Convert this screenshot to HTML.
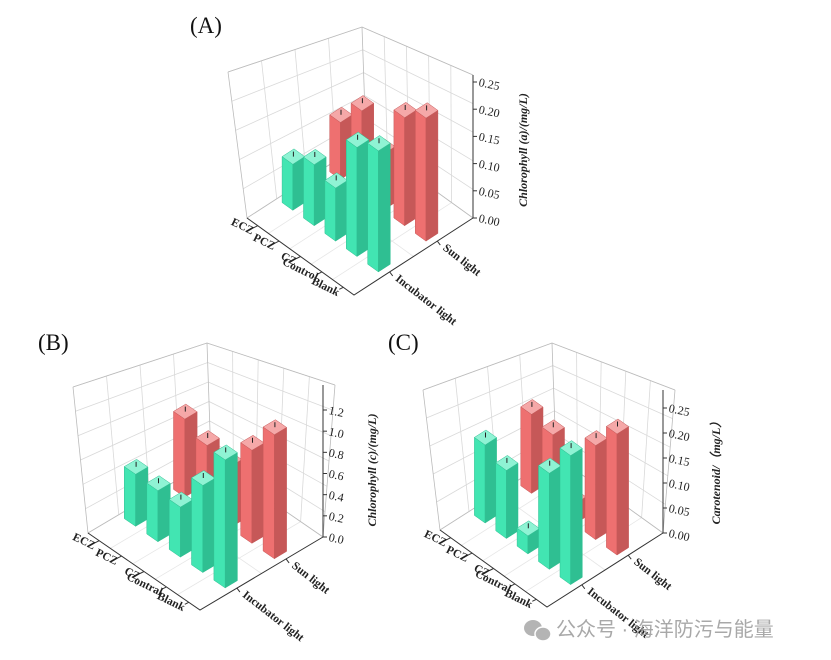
<!DOCTYPE html>
<html><head><meta charset="utf-8"><style>
html,body{margin:0;padding:0;background:#fff;}
svg{display:block;}
.t{font-family:"Liberation Serif",serif;font-size:12px;fill:#222;}
.c{font-family:"Liberation Serif",serif;font-size:11.5px;font-weight:bold;fill:#222;}
.ax{font-family:"Liberation Serif",serif;font-size:12px;font-weight:bold;font-style:italic;fill:#222;}
.p{font-family:"Liberation Serif",serif;font-size:23px;fill:#111;}
.w{font-family:"Liberation Sans","Noto Sans CJK SC",sans-serif;font-size:20px;fill:#9a9a9a;}
</style></head><body>
<svg id="s" width="831" height="660" viewBox="0 0 831 660" xmlns="http://www.w3.org/2000/svg">
<g id="gA"></g><g id="gB"></g><g id="gC"></g>
<text class="p" x="190" y="33">(A)</text>
<text class="p" x="38" y="350">(B)</text>
<text class="p" x="388" y="350">(C)</text>
<text class="ax" transform="translate(527,150) rotate(-90)" text-anchor="middle">Chlorophyll (a)/(mg/L)</text>
<text class="ax" transform="translate(376,470) rotate(-90)" text-anchor="middle">Chlorophyll (c)/(mg/L)</text>
<text class="ax" transform="translate(720,470) rotate(-90)" text-anchor="middle">Carotenoid/（mg/L）</text>
<g id="labels">
<text class="c" id="A_c0" text-anchor="end">ECZ</text><text class="c" id="A_c1" text-anchor="end">PCZ</text><text class="c" id="A_c2" text-anchor="end">CZ</text><text class="c" id="A_c3" text-anchor="end">Control</text><text class="c" id="A_c4" text-anchor="end">Blank</text>
<text class="c" id="A_l0">Incubator light</text><text class="c" id="A_l1">Sun light</text>
<text class="c" id="B_c0" text-anchor="end">ECZ</text><text class="c" id="B_c1" text-anchor="end">PCZ</text><text class="c" id="B_c2" text-anchor="end">CZ</text><text class="c" id="B_c3" text-anchor="end">Contral</text><text class="c" id="B_c4" text-anchor="end">Blank</text>
<text class="c" id="B_l0">Incubator light</text><text class="c" id="B_l1">Sun light</text>
<text class="c" id="C_c0" text-anchor="end">ECZ</text><text class="c" id="C_c1" text-anchor="end">PCZ</text><text class="c" id="C_c2" text-anchor="end">CZ</text><text class="c" id="C_c3" text-anchor="end">Contral</text><text class="c" id="C_c4" text-anchor="end">Blank</text>
<text class="c" id="C_l0">Incubator light</text><text class="c" id="C_l1">Sun light</text>
<text class="t" id="A_t0">0.00</text><text class="t" id="A_t1">0.05</text><text class="t" id="A_t2">0.10</text><text class="t" id="A_t3">0.15</text><text class="t" id="A_t4">0.20</text><text class="t" id="A_t5">0.25</text>
<text class="t" id="B_t0">0.0</text><text class="t" id="B_t1">0.2</text><text class="t" id="B_t2">0.4</text><text class="t" id="B_t3">0.6</text><text class="t" id="B_t4">0.8</text><text class="t" id="B_t5">1.0</text><text class="t" id="B_t6">1.2</text>
<text class="t" id="C_t0">0.00</text><text class="t" id="C_t1">0.05</text><text class="t" id="C_t2">0.10</text><text class="t" id="C_t3">0.15</text><text class="t" id="C_t4">0.20</text><text class="t" id="C_t5">0.25</text>
</g>
<g opacity="0.85">
<ellipse cx="533" cy="628" rx="9" ry="8" fill="#a8a8a8"/>
<ellipse cx="543" cy="634" rx="8" ry="7" fill="#a8a8a8" stroke="#fff" stroke-width="1.5"/>
<text class="w" x="556" y="636">公众号 · 海洋防污与能量</text>
</g>
</svg>
<script>
var NS="http://www.w3.org/2000/svg";
function el(g,tag,at){var e=document.createElementNS(NS,tag);for(var k in at)e.setAttribute(k,at[k]);g.appendChild(e);return e;}
function lerp(p,q,t){return [p[0]+(q[0]-p[0])*t,p[1]+(q[1]-p[1])*t];}
function pts(a){return a.map(function(p){return p[0].toFixed(1)+","+p[1].toFixed(1)}).join(" ");}
function panel(id,c){
 var g=document.getElementById(c.g);
 var L=c.L,F=c.F,R=c.R,B=[L[0]+R[0]-F[0],L[1]+R[1]-F[1]];
 var u=[F[0]-L[0],F[1]-L[1]],v=[R[0]-F[0],R[1]-F[1]];
 function P(a,b,h){return [L[0]+a*u[0]+b*v[0],L[1]+a*u[1]+b*v[1]-(h||0)];}
 var gc="#d9d9d9";
 var n=c.nt-1;
 for(var i=0;i<=n;i++){var f=i/n;
  var p1=lerp(L,c.Lt,f),p2=lerp(B,c.Bt,f),p3=lerp(R,c.Rt,f);
  el(g,"polyline",{points:pts([p1,p2,p3]),fill:"none",stroke:gc,"stroke-width":0.8});}
 [0.25,0.5,0.75].forEach(function(t){
  el(g,"line",{x1:lerp(L,B,t)[0],y1:lerp(L,B,t)[1],x2:lerp(c.Lt,c.Bt,t)[0],y2:lerp(c.Lt,c.Bt,t)[1],stroke:gc,"stroke-width":0.8});
  });
 [0.2,0.4,0.6,0.8].forEach(function(t){
  el(g,"line",{x1:lerp(B,R,t)[0],y1:lerp(B,R,t)[1],x2:lerp(c.Bt,c.Rt,t)[0],y2:lerp(c.Bt,c.Rt,t)[1],stroke:gc,"stroke-width":0.8});
  var a=P(t,0),b=P(t,1);el(g,"line",{x1:a[0],y1:a[1],x2:b[0],y2:b[1],stroke:"#e6e6e6","stroke-width":0.8});
  });
 [0.5].forEach(function(t){var a=P(0,t),b=P(1,t);el(g,"line",{x1:a[0],y1:a[1],x2:b[0],y2:b[1],stroke:"#e6e6e6","stroke-width":0.8});});
 el(g,"polyline",{points:pts([c.Lt,L,B,R,c.Rt]),fill:"none",stroke:"#bbb","stroke-width":0.8});
 el(g,"polyline",{points:pts([c.Lt,c.Bt,c.Rt]),fill:"none",stroke:"#bbb","stroke-width":0.8});
 el(g,"line",{x1:B[0],y1:B[1],x2:c.Bt[0],y2:c.Bt[1],stroke:"#bbb","stroke-width":0.8});
 el(g,"polyline",{points:pts([L,F,R]),fill:"none",stroke:"#333","stroke-width":1});
 el(g,"line",{x1:R[0],y1:R[1],x2:R[0],y2:c.Rt[1],stroke:"#333","stroke-width":1});
 for(var i=0;i<c.nt;i++){var y=R[1]-i*(R[1]-c.ymax)/(c.nt-1);
  el(g,"line",{x1:R[0],y1:y,x2:R[0]+4,y2:y,stroke:"#333","stroke-width":1});
  var t=document.getElementById(id+"_t"+i);t.setAttribute("x",R[0]+6);t.setAttribute("y",y+4);
  t.setAttribute("transform","rotate(12,"+(R[0]+6)+","+y+")");}
 var as=[0.1,0.3,0.5,0.7,0.9];
 as.forEach(function(a,i){var p=P(a,0);
  el(g,"line",{x1:p[0],y1:p[1],x2:p[0]-4,y2:p[1]+2,stroke:"#333","stroke-width":1});
  var t=document.getElementById(id+"_c"+i);var x=p[0]-6,y=p[1]+9;
  t.setAttribute("x",x);t.setAttribute("y",y);t.setAttribute("transform","rotate(26,"+x+","+y+")");});
 [0.3,0.7].forEach(function(b,i){var p=P(1,b);
  el(g,"line",{x1:p[0],y1:p[1],x2:p[0]+3,y2:p[1]+4,stroke:"#333","stroke-width":1});
  var t=document.getElementById(id+"_l"+i);var x=p[0]+5,y=p[1]+8;
  t.setAttribute("x",x);t.setAttribute("y",y);t.setAttribute("transform","rotate(38,"+x+","+y+")");});
 var bars=[];
 c.green.forEach(function(h,i){bars.push({a:as[i],b:0.3,h:h,col:["#42e5b2","#2fbf92","#8ff3d4"]});});
 c.red.forEach(function(h,i){bars.push({a:as[i],b:0.7,h:h,col:["#ee7070","#c65858","#f5a8a8"]});});
 bars.sort(function(x,y){return (x.a-x.b)-(y.a-y.b);});
 var d=0.05;
 bars.forEach(function(br){var a=br.a,b=br.b,h=br.h;
  var p00=P(a-d,b-d),p10=P(a+d,b-d),p11=P(a+d,b+d),p01=P(a-d,b+d);
  var q00=P(a-d,b-d,h),q10=P(a+d,b-d,h),q11=P(a+d,b+d,h),q01=P(a-d,b+d,h);
  el(g,"polygon",{points:pts([p00,p10,q10,q00]),fill:br.col[0],stroke:br.col[1],"stroke-width":0.5});
  el(g,"polygon",{points:pts([p10,p11,q11,q10]),fill:br.col[1],stroke:br.col[1],"stroke-width":0.5});
  el(g,"polygon",{points:pts([q00,q10,q11,q01]),fill:br.col[2],stroke:br.col[1],"stroke-width":0.5});
  var m=P(a,b,h);el(g,"line",{x1:m[0],y1:m[1],x2:m[0],y2:m[1]-5,stroke:"#222","stroke-width":1});
 });
}
panel("A",{g:"gA",L:[247,218],F:[354,295],R:[473,218],Lt:[228,72],Bt:[362,27],Rt:[473,75],ymax:82,nt:6,
 green:[46,61,53,109,121],red:[57,84,56,108,123]});
panel("B",{g:"gB",L:[88,533],F:[200,610],R:[323,537],Lt:[73,387],Bt:[207,343],Rt:[335,385],ymax:410,nt:7,
 green:[52,51,50,87,128],red:[78,67,61,93,124]});
panel("C",{g:"gC",L:[440,530],F:[547,607],R:[663,533],Lt:[423,390],Bt:[552,343],Rt:[675,390],ymax:408,nt:6,
 green:[78,68,18,96,129],red:[79,74,20,94,121]});
</script>
</body></html>
